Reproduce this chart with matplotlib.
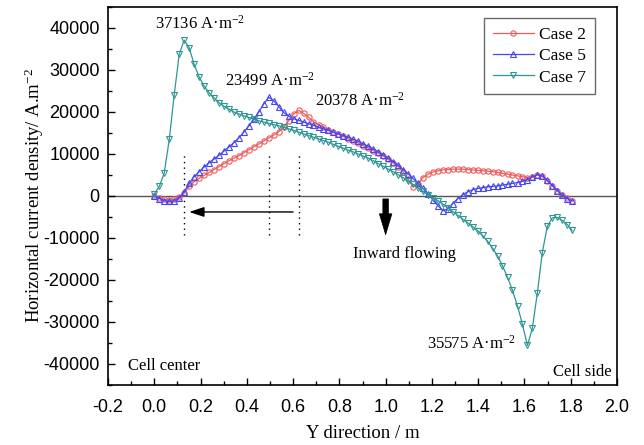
import numpy as np
import matplotlib
matplotlib.use("Agg")
import matplotlib.pyplot as plt
from matplotlib.ticker import MultipleLocator, FormatStrFormatter

# Sample positions across the cell (m), from the cell center to the cell side
y_pos = [
    0.000, 0.022, 0.043, 0.065, 0.086, 0.108, 0.129, 0.151, 0.172, 0.194,
    0.215, 0.237, 0.258, 0.280, 0.301, 0.323, 0.344, 0.366, 0.387, 0.409,
    0.430, 0.452, 0.473, 0.495, 0.516, 0.538, 0.559, 0.581, 0.602, 0.624,
    0.645, 0.667, 0.688, 0.710, 0.731, 0.753, 0.774, 0.796, 0.817, 0.839,
    0.860, 0.882, 0.903, 0.925, 0.946, 0.968, 0.989, 1.011, 1.032, 1.054,
    1.075, 1.097, 1.118, 1.140, 1.161, 1.183, 1.204, 1.226, 1.247, 1.269,
    1.290, 1.312, 1.333, 1.355, 1.376, 1.398, 1.419, 1.441, 1.462, 1.484,
    1.505, 1.527, 1.548, 1.570, 1.591, 1.613, 1.634, 1.656, 1.677, 1.699,
    1.720, 1.742, 1.763, 1.785, 1.806,
]

# Horizontal current density (A/m^2)
case2 = [
    0, -400, -800, -1000, -800, -300, 600, 2300, 3400, 4200,
    4900, 5600, 6300, 7000, 7700, 8400, 9000, 9600, 10300, 11000,
    11700, 12400, 13100, 13800, 14500, 15300, 16400, 17900, 19500, 20378,
    19700, 18700, 17700, 17000, 16400, 15800, 15200, 14700, 14200, 13600,
    13100, 12600, 12000, 11400, 10800, 10200, 9500, 8700, 7900, 7000,
    5800, 4000, 2200, 2800, 4400, 5200, 5700, 6000, 6200, 6300,
    6400, 6400, 6400, 6300, 6200, 6100, 6000, 5900, 5800, 5600,
    5400, 5200, 5000, 4800, 4600, 4400, 4600, 5000, 4700, 3600,
    2500, 1300, 300, -500, -1100,
]
case5 = [
    0, -600, -1100, -1300, -1200, -500, 1000, 3000, 4600, 5800,
    6900, 7900, 8800, 9700, 10700, 11700, 12700, 13900, 15200, 16700,
    18300, 20000, 21900, 23499, 22700, 21300, 19900, 19000, 18400, 18000,
    17600, 17200, 16800, 16400, 16000, 15600, 15200, 14800, 14400, 14000,
    13500, 13000, 12400, 11800, 11200, 10500, 9800, 9000, 8200, 7300,
    6300, 5300, 4200, 3000, 1800, 500, -900, -2300, -3500, -3100,
    -1800, -600, 300, 1000, 1500, 1800, 2000, 2200, 2300, 2400,
    2600, 2800, 3000, 3200, 3500, 3900, 4500, 5100, 4800, 3700,
    2500, 1300, 200, -600, -1200,
]
case7 = [
    500, 2300, 5500, 13500, 24000, 33800, 37136, 35300, 31400, 28300,
    26200, 24600, 23400, 22200, 21400, 20700, 20000, 19500, 19100, 18700,
    18300, 17900, 17600, 17300, 17000, 16700, 16400, 16000, 15600, 15200,
    14800, 14400, 14000, 13600, 13200, 12800, 12300, 11800, 11400, 10900,
    10500, 10000, 9500, 9000, 8400, 7700, 7100, 6400, 5800, 5100,
    4400, 3600, 2800, 1900, 1100, 300, -400, -1100, -1900, -2800,
    -3700, -4600, -5500, -6400, -7300, -8300, -9400, -10800, -12400, -14300,
    -16600, -19400, -22400, -26200, -30500, -35575, -31500, -23000, -13500, -7200,
    -5200, -5100, -5800, -6800, -8200,
]

series_labels = ["Case 2", "Case 5", "Case 7"]

SERIF = ["Liberation Serif", "DejaVu Serif"]
SANS = ["Liberation Sans", "DejaVu Sans"]

plt.rcParams["font.family"] = SANS
plt.rcParams["axes.unicode_minus"] = False
plt.rcParams["mathtext.fontset"] = "custom"
plt.rcParams["mathtext.rm"] = "Liberation Serif"
plt.rcParams["mathtext.it"] = "Liberation Serif:italic"
plt.rcParams["mathtext.bf"] = "Liberation Serif:bold"

fig = plt.figure(figsize=(6.44, 4.45), dpi=100)
ax = fig.add_axes([108 / 644, 1 - 385 / 445, 509 / 644, 378 / 445])

styles = [
    dict(color="#F05A5A", marker="o", markersize=3.8),
    dict(color="#4646F5", marker="^", markersize=5.0),
    dict(color="#2F9696", marker="v", markersize=5.0),
]
x = np.array(y_pos)
data = [np.array(case2), np.array(case5), np.array(case7)]
for vals, lab, st in zip(data, series_labels, styles):
    ax.plot(x, vals, color=st["color"], lw=0.9, marker=st["marker"],
            markersize=st["markersize"], markerfacecolor="none",
            markeredgecolor=st["color"], markeredgewidth=0.8, label=lab)

# zero reference line
ax.axhline(0, color="#555555", lw=1.0, zorder=1)

# dotted guides at the positive peaks
for vals in data:
    xp = x[int(np.argmax(vals))]
    ax.plot([xp, xp], [-9200, 9900], color="black", lw=1.0,
            linestyle=(0, (1, 3)), zorder=1)

# peak annotations
a_unit = " A\u00b7m$^{-2}$"
ax.text(0.003, 39900, f"{int(max(case7))}" + a_unit, family=SERIF,
        fontsize=12, ha="left", va="baseline")
ax.text(0.305, 26200, f"{int(max(case5))}" + a_unit, family=SERIF,
        fontsize=12, ha="left", va="baseline")
ax.text(0.694, 21400, f"{int(max(case2))}" + a_unit, family=SERIF,
        fontsize=12, ha="left", va="baseline")
ax.text(1.177, -36250, f"{int(abs(min(case7)))}" + a_unit, family=SERIF,
        fontsize=12, ha="left", va="baseline")

ax.text(-0.114, -41400, "Cell center", family=SERIF, fontsize=12,
        ha="left", va="baseline")
ax.text(1.977, -42900, "Cell side", family=SERIF, fontsize=12,
        ha="right", va="baseline")
ax.text(0.86, -14750, "Inward flowing", family=SERIF, fontsize=12,
        ha="left", va="baseline")

# direction arrows
ax.annotate("", xy=(0.151, -3800), xytext=(0.60, -3800),
            arrowprops=dict(arrowstyle="-|>,head_length=0.9,head_width=0.3",
                            color="black", lw=1.0, shrinkA=0, shrinkB=0))
ax.annotate("", xy=(1.0, -9200), xytext=(1.0, -700),
            arrowprops=dict(arrowstyle="simple,head_length=1.5,head_width=0.9,tail_width=0.4",
                            fc="black", ec="black", lw=0.5, shrinkA=0, shrinkB=0,
                            mutation_scale=10))

ax.set_xlim(-0.2, 2.0)
ax.set_ylim(-45000, 45000)
ax.xaxis.set_major_locator(MultipleLocator(0.2))
ax.xaxis.set_minor_locator(MultipleLocator(0.1))
ax.yaxis.set_major_locator(MultipleLocator(10000))
ax.yaxis.set_minor_locator(MultipleLocator(5000))
ax.xaxis.set_major_formatter(FormatStrFormatter("%.1f"))
ax.yaxis.set_major_formatter(FormatStrFormatter("%d"))

ax.tick_params(which="both", direction="in", top=False, right=False,
               labelsize=13, width=1.0)
ax.tick_params(axis="x", which="major", length=5, pad=10)
ax.tick_params(axis="y", which="major", length=5, pad=6)
ax.tick_params(which="minor", length=3)
for sp in ax.spines.values():
    sp.set_linewidth(1.2)

ax.set_xlabel("Y direction / m", family=SERIF, fontsize=13.5)
ax.set_ylabel("Horizontal current density/ A.m$^{-2}$", family=SERIF, fontsize=13.5)
ax.xaxis.set_label_coords(0.5, -0.105)
ax.yaxis.set_label_coords(-0.122, 0.5)

leg = ax.legend(loc="upper right", bbox_to_anchor=(0.957, 0.971), borderaxespad=0,
                prop={"family": SERIF, "size": 12.5}, frameon=True, fancybox=False,
                handlelength=2.4, labelspacing=0.3, borderpad=0.5, handletextpad=0.3,
                markerscale=1.0)
leg.get_frame().set_edgecolor("#444444")
leg.get_frame().set_linewidth(1.0)

fig.savefig("out.png", dpi=100)
